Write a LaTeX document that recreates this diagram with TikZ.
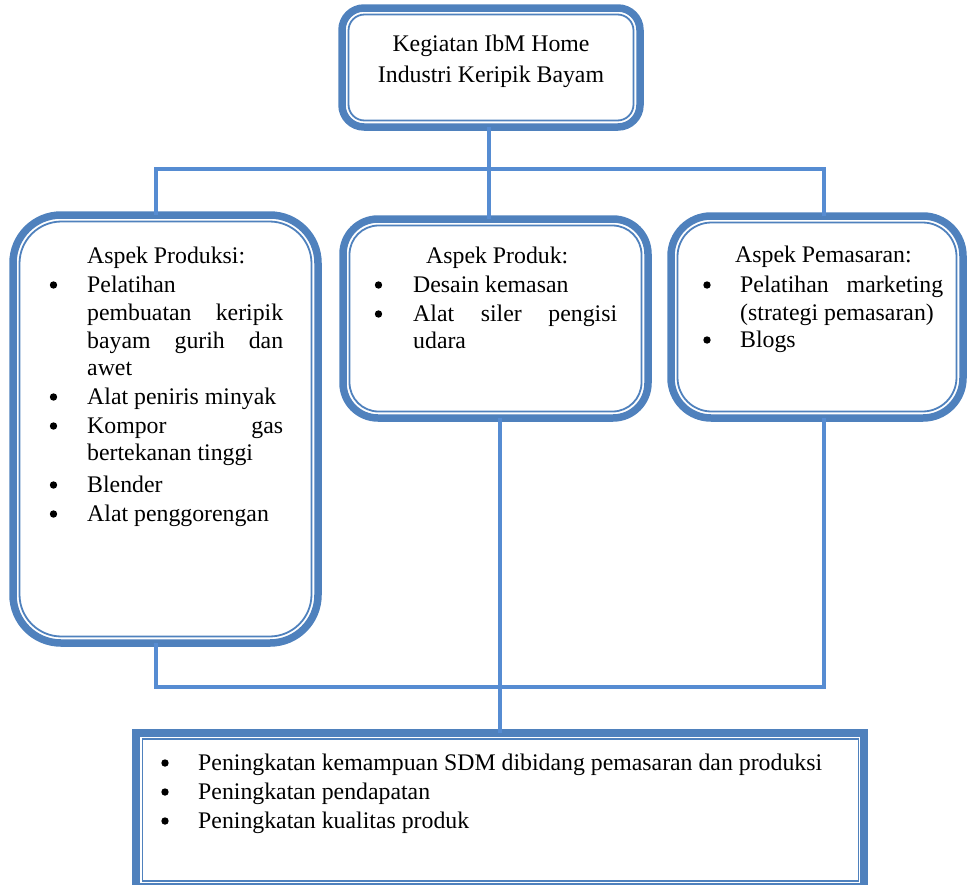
\documentclass[tikz,border=0pt]{standalone}
\usepackage{fontspec}
\setmainfont{Liberation Serif}
\definecolor{boxblue}{RGB}{79,129,189}
\definecolor{connblue}{RGB}{86,140,210}
\tikzset{
 outerbox/.style={draw=boxblue, line width=7.5pt, fill=white, inner sep=0pt, outer sep=0pt},
 innerline/.style={draw=boxblue, line width=1.8pt},
 conn/.style={draw=connblue, line width=4pt},
 txt/.style={anchor=base west, inner sep=0pt, font=\fontsize{23.8}{28}\selectfont},
 ctxt/.style={anchor=base, inner sep=0pt, font=\fontsize{23.8}{28}\selectfont},
 bul/.style={circle, fill=black, inner sep=0pt, minimum size=7.4pt, yshift=7pt},
}
\begin{document}
\begin{tikzpicture}[x=1pt,y=-1pt]
\useasboundingbox (0,0) rectangle (967,884);

\coordinate (hub) at (489,169);
\coordinate (hl) at (156,169);
\coordinate (hr) at (824,169);
\coordinate (bl) at (156,687);
\coordinate (br) at (824,687);
\coordinate (bm) at (500,687);

% boxes
\node[outerbox, rounded corners=22pt, minimum width=298pt, minimum height=119pt] (top) at (491,67.5) {};
\draw[innerline, rounded corners=16pt] ([shift={(6.5,6.5)}]top.north west) rectangle ([shift={(-6.5,-6.5)}]top.south east);

\node[outerbox, rounded corners=48pt, minimum width=305pt, minimum height=428pt] (left) at (165.5,429) {};
\draw[innerline, rounded corners=42pt] ([shift={(6.5,6.5)}]left.north west) rectangle ([shift={(-6.5,-6.5)}]left.south east);

\node[outerbox, rounded corners=35pt, minimum width=305pt, minimum height=199pt] (mid) at (495.5,318.5) {};
\draw[innerline, rounded corners=29pt] ([shift={(6.5,6.5)}]mid.north west) rectangle ([shift={(-6.5,-6.5)}]mid.south east);

\node[outerbox, rounded corners=40pt, minimum width=292pt, minimum height=202pt] (right) at (817,317) {};
\draw[innerline, rounded corners=34pt] ([shift={(6.5,6.5)}]right.north west) rectangle ([shift={(-6.5,-6.5)}]right.south east);

\node[outerbox, minimum width=728pt, minimum height=154pt] (bottom) at (500,810) {};
\draw[innerline] ([shift={(6.5,6)}]bottom.north west) rectangle ([shift={(-5.5,-6)}]bottom.south east);

% connectors
\draw[conn] (top.south -| hub) -- (hub);
\draw[conn] (left.north -| hl) -- (hl) -- (hr) -- (right.north -| hr);
\draw[conn] (hub) -- (mid.north -| hub);
\draw[conn] (left.south -| bl) -- (bl) -- (br) -- (right.south -| br);
\draw[conn] (mid.south -| bm) -- (bottom.north -| bm);

% top text
\node[ctxt] (t1) at (491,51) {Kegiatan IbM Home};
\node[ctxt] (t2) at (491,82) {Industri Keripik Bayam};

% left box text
\node[txt] (a0) at (87,263) {Aspek Produksi:};
\node[txt] (a1) at (87,292) {Pelatihan};
\node[txt] (a2) at (87,320) {\makebox[196pt][s]{pembuatan keripik}};
\node[txt] (a3) at (87,348) {\makebox[196pt][s]{bayam gurih dan}};
\node[txt] (a4) at (87,375) {awet};
\node[txt] (a5) at (87,404) {Alat peniris minyak};
\node[txt] (a6) at (87,433) {\makebox[196pt][s]{Kompor gas}};
\node[txt] (a7) at (87,460) {bertekanan tinggi};
\node[txt] (a8) at (87,492) {Blender};
\node[txt] (a9) at (87,521) {Alat penggorengan};
\node[bul] (ab1) at (53.5,292) {};
\node[bul] (ab2) at (53.5,404) {};
\node[bul] (ab3) at (53.5,433) {};
\node[bul] (ab4) at (53.5,492) {};
\node[bul] (ab5) at (53.5,521) {};

% middle box text
\node[txt] (m0) at (426,263) {Aspek Produk:};
\node[txt] (m1) at (413,292) {Desain kemasan};
\node[txt] (m2) at (413,321) {\makebox[204pt][s]{Alat siler pengisi}};
\node[txt] (m3) at (413,348) {udara};
\node[bul] (mb1) at (378.5,292) {};
\node[bul] (mb2) at (378.5,321) {};

% right box text
\node[txt] (r0) at (735,262) {Aspek Pemasaran:};
\node[txt] (r1) at (740,292) {\makebox[203pt][s]{Pelatihan marketing}};
\node[txt] (r2) at (740,320) {(strategi pemasaran)};
\node[txt] (r3) at (740,347) {Blogs};
\node[bul] (rb1) at (707,292) {};
\node[bul] (rb2) at (707,347) {};

% bottom box text
\node[txt] (b1) at (198,770) {Peningkatan kemampuan SDM dibidang pemasaran dan produksi};
\node[txt] (b2) at (198,799) {Peningkatan pendapatan};
\node[txt] (b3) at (198,828) {Peningkatan kualitas produk};
\node[bul] (bb1) at (165,770) {};
\node[bul] (bb2) at (165,799) {};
\node[bul] (bb3) at (165,828) {};
\end{tikzpicture}
\end{document}
